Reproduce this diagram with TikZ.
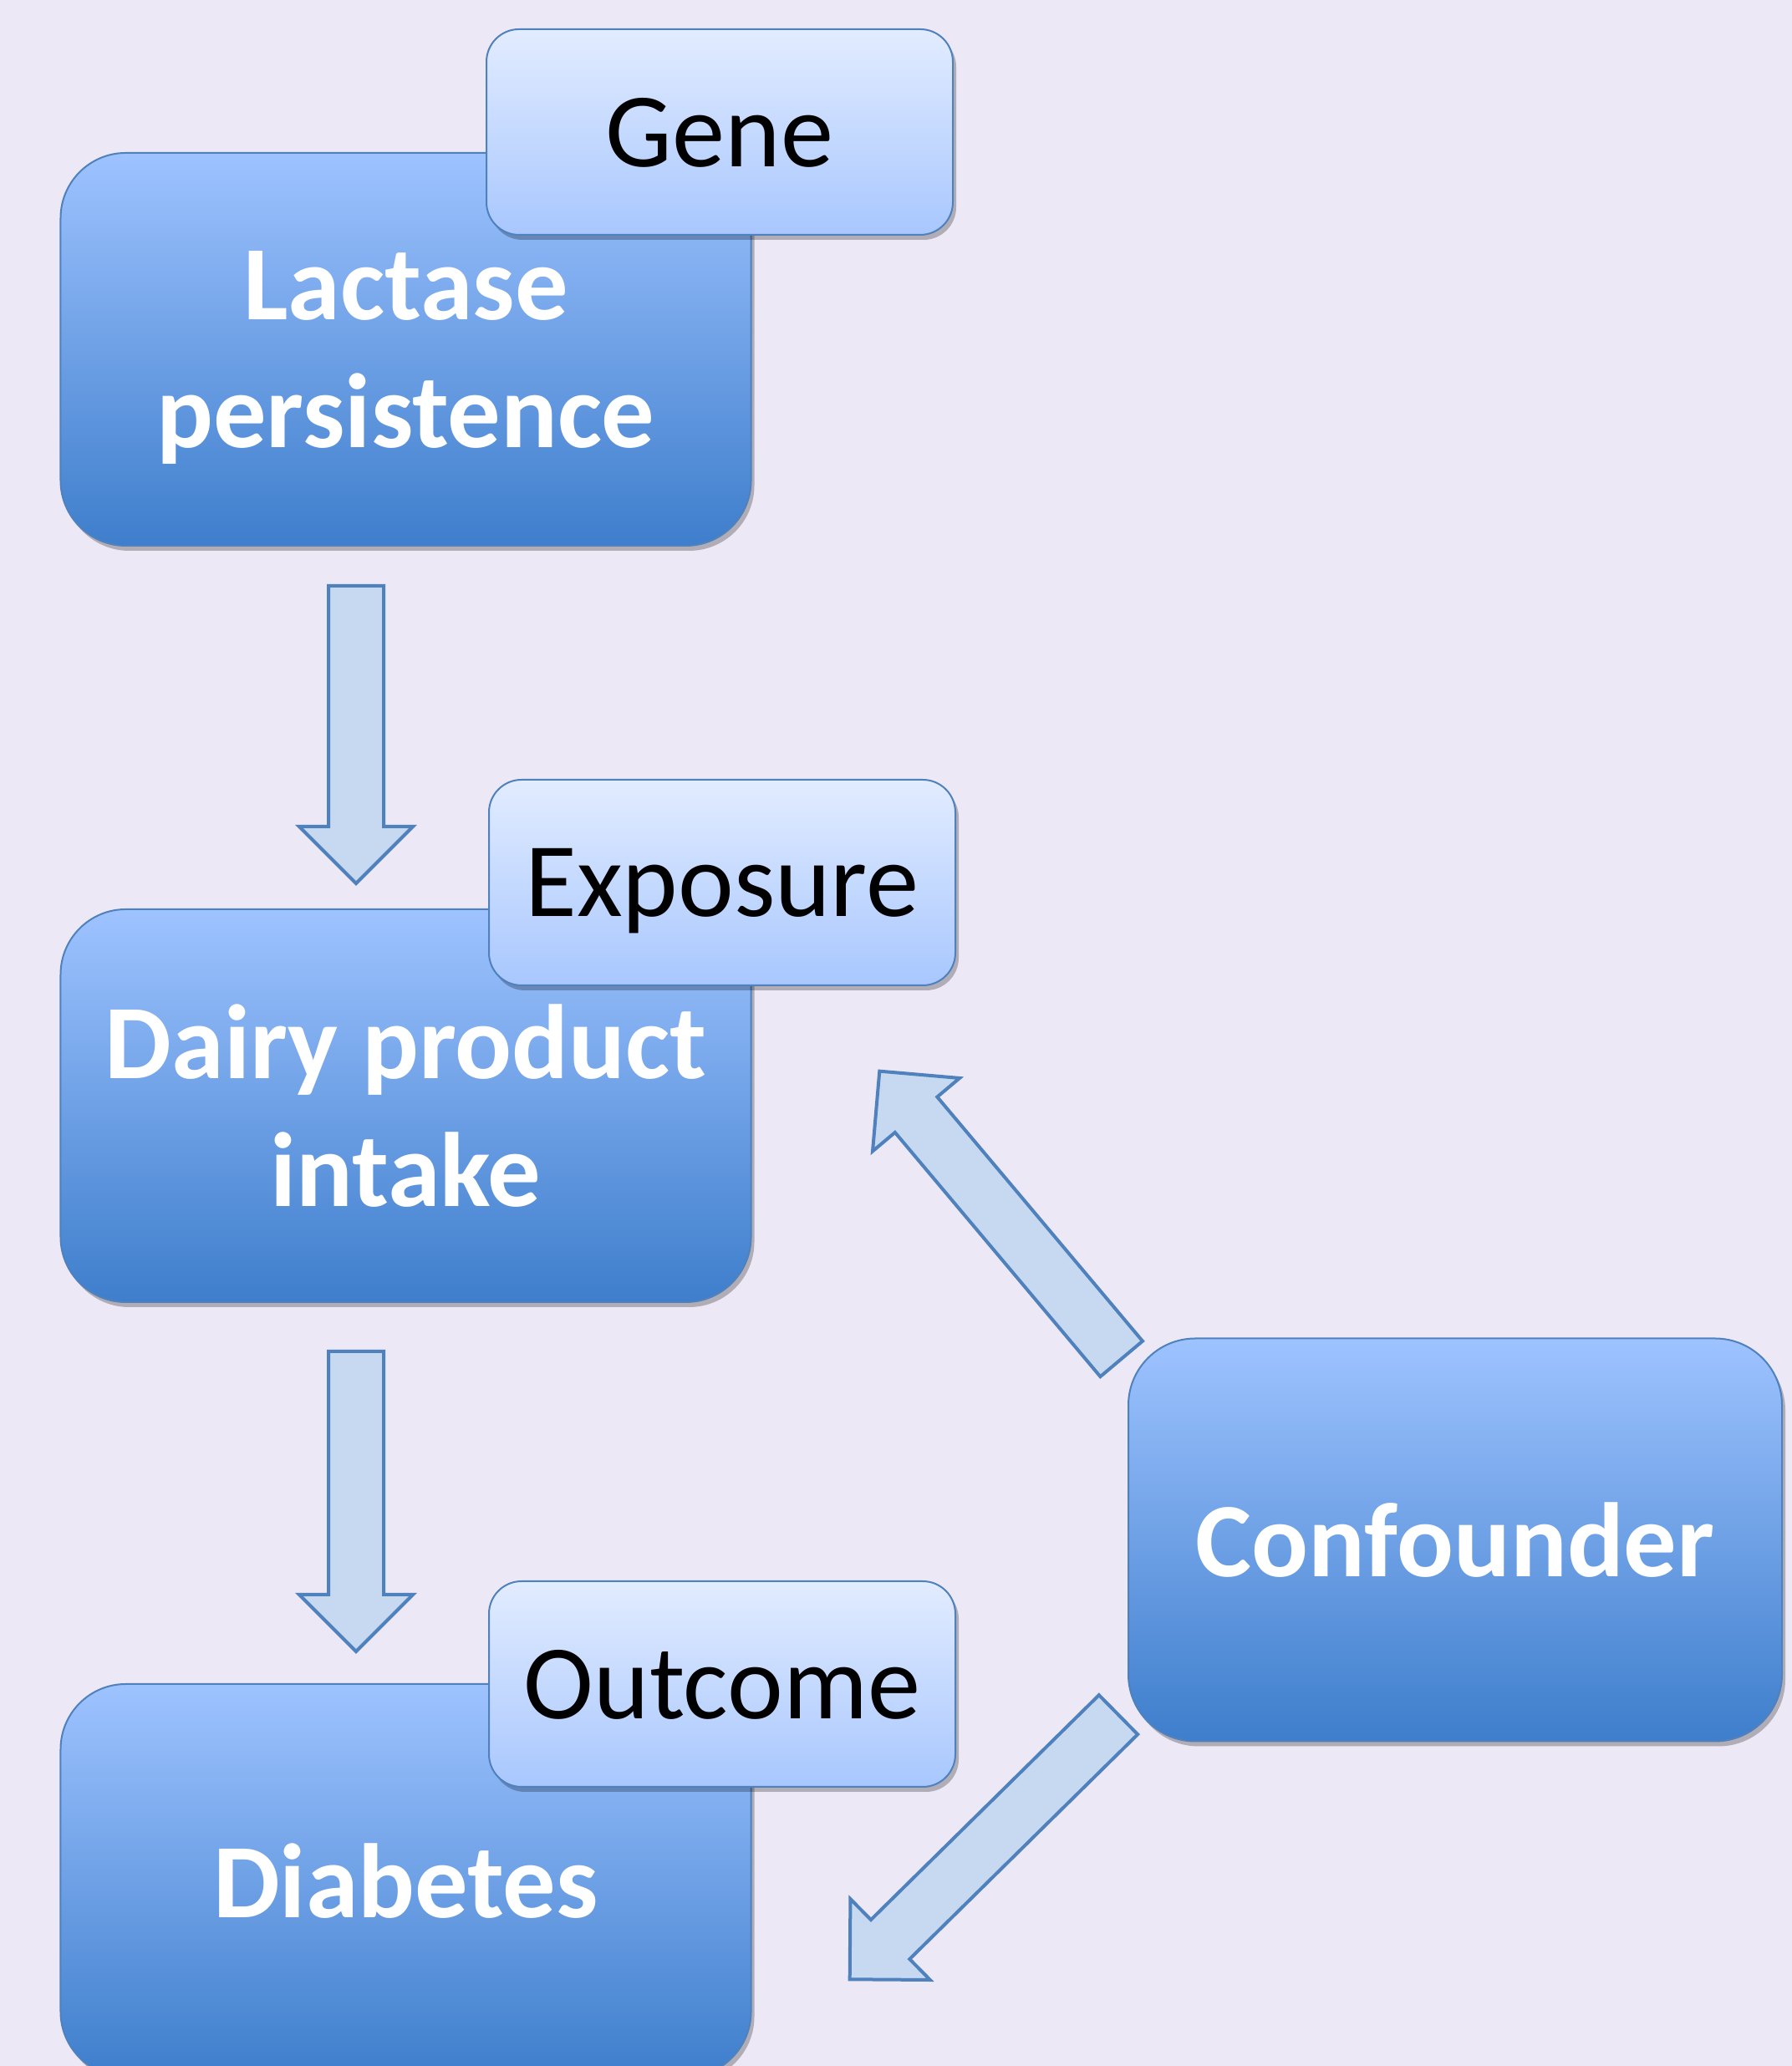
\documentclass[tikz,border=0pt]{standalone}
\usepackage{fontspec}
\setmainfont{Carlito}
\usetikzlibrary{calc,shadows}
\definecolor{PageBg}{HTML}{ECE8F5}
\definecolor{BoxTop}{HTML}{9EC3FF}
\definecolor{BoxMid}{HTML}{7FAAEC}
\definecolor{BoxBottom}{HTML}{3E7ECC}
\definecolor{TagTop}{HTML}{E2ECFF}
\definecolor{TagBottom}{HTML}{A8C7FE}
\definecolor{EdgeBlue}{HTML}{4F81BD}
\definecolor{ArrowFill}{HTML}{C6D9F0}

% block arrow from tail #1 to tip #2
\newcommand{\blockarrow}[2]{%
  \coordinate (ba-base) at ($(#2)!6.8mm!(#1)$);
  \draw[fatarrow] ($(#1)!3.3mm!90:(#2)$) -- ($(ba-base)!3.3mm!-90:(#1)$)
    -- ($(ba-base)!6.8mm!-90:(#1)$) -- (#2) -- ($(ba-base)!6.8mm!90:(#1)$)
    -- ($(ba-base)!3.3mm!90:(#1)$) -- ($(#1)!3.3mm!-90:(#2)$) -- cycle;
}

\begin{document}
\begin{tikzpicture}[x=1mm, y=1mm,
  mainbox/.style={rounded corners=7.8mm, top color=BoxTop, middle color=BoxMid,
                  bottom color=BoxBottom, draw=EdgeBlue, line width=0.2mm,
                  minimum width=82.6mm, minimum height=47mm, inner sep=0pt,
                  align=center, text=white, text depth=0pt,
                  font=\fontsize{36}{43.5}\selectfont\bfseries,
                  drop shadow={shadow xshift=0.4mm, shadow yshift=-0.6mm, fill=black, opacity=0.25}},
  tagbox/.style={rounded corners=3.9mm, top color=TagTop, bottom color=TagBottom,
                 draw=EdgeBlue, line width=0.2mm, minimum width=55.8mm,
                 minimum height=24.6mm, inner sep=0pt, text=black, text depth=0pt,
                 font=\fontsize{36}{43.5}\selectfont,
                 drop shadow={shadow xshift=0.4mm, shadow yshift=-0.6mm, fill=black, opacity=0.25}},
  fatarrow/.style={fill=ArrowFill, draw=EdgeBlue, line width=0.4mm, line join=miter}]
  \useasboundingbox (0,0) rectangle (214.4,247.2);
  \clip (0,0) rectangle (214.4,247.2);
  \fill[PageBg] (0,0) rectangle (214.4,247.2);

  % left column
  \node[mainbox] (lactase) at (48.55,205.4) {Lactase\\persistence};
  \node[tagbox] (gene) at (86.1,231.4) {Gene};
  \node[mainbox] (dairy) at (48.55,114.9) {Dairy product\\intake};
  \node[tagbox] (exposure) at (86.4,141.6) {Exposure};
  \node[mainbox] (diabetes) at (48.55,22.2) {Diabetes};
  \node[tagbox] (outcome) at (86.4,45.7) {Outcome};

  % right side
  \node[mainbox, minimum width=78.2mm, minimum height=48.2mm, rounded corners=8mm]
    (confounder) at (174.1,62.95) {Confounder};

  % arrows
  \coordinate (ld-tail) at (42.6,177.1);
  \coordinate (ld-tip) at (42.6,141.5);
  \coordinate (dd-tail) at (42.6,85.5);
  \coordinate (dd-tip) at (42.6,49.6);
  \coordinate (ce-tail) at (134.17,84.61);
  \coordinate (ce-tip) at (105.23,119.03);
  \coordinate (cd-tail) at (133.8,42.03);
  \coordinate (cd-tip) at (101.67,10.37);
  \blockarrow{ld-tail}{ld-tip}
  \blockarrow{dd-tail}{dd-tip}
  \blockarrow{ce-tail}{ce-tip}
  \blockarrow{cd-tail}{cd-tip}
\end{tikzpicture}
\end{document}
